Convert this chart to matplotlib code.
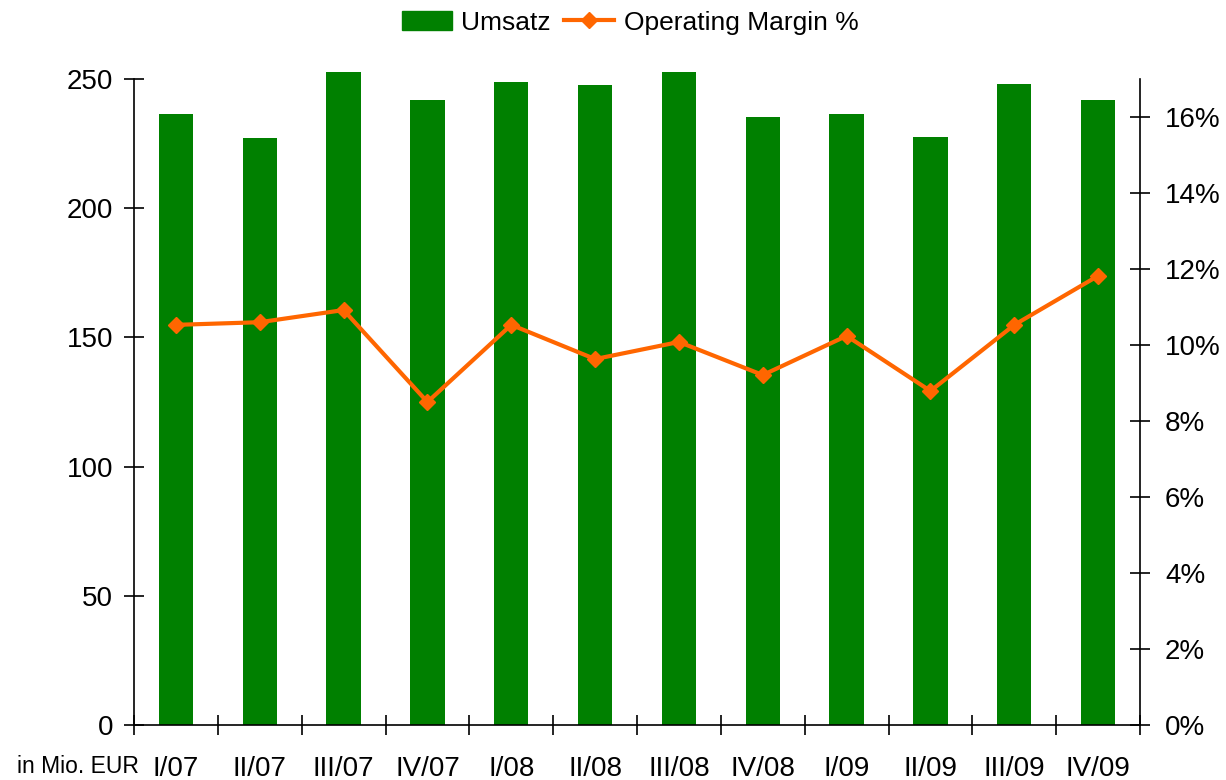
import matplotlib.pyplot as plt
from matplotlib.ticker import FuncFormatter, FixedLocator
from matplotlib.lines import Line2D
from matplotlib.patches import Patch

plt.rcParams['font.family'] = ['Liberation Sans', 'DejaVu Sans']

# === data
quartale = ['I/07', 'II/07', 'III/07', 'IV/07', 'I/08', 'II/08', 'III/08', 'IV/08',
            'I/09', 'II/09', 'III/09', 'IV/09']
umsatz = [236.5, 227.2, 252.7, 241.9, 248.8, 247.7, 252.7, 235.3, 236.5, 227.6, 248.1, 241.9]
marge = [10.53, 10.60, 10.92, 8.50, 10.53, 9.63, 10.08, 9.21, 10.24, 8.79, 10.53, 11.82]

gruen = '#008000'
orange = '#FF6600'

fig = plt.figure(figsize=(12.26, 7.8), dpi=100)
ax = fig.add_axes([0.1093, 0.0705, 0.8206, 0.8282])
x = list(range(len(quartale)))

ax.bar(x, umsatz, width=0.41, color=gruen, clip_on=False, zorder=2)
ax.set_xlim(-0.5, len(quartale) - 0.5)
ax.set_ylim(0, 250)
ax.set_yticks(range(0, 251, 50))

ax2 = ax.twinx()
ax2.plot(x, marge, color=orange, lw=3, marker='D', markersize=8, zorder=3)
ax2.set_ylim(0, 17)
ax2.set_yticks(range(0, 17, 2))
ax2.yaxis.set_major_formatter(FuncFormatter(lambda v, p: f'{v:.0f}%'))

# category axis: ticks on borders, labels in middle
ax.xaxis.set_major_locator(FixedLocator([i - 0.5 for i in range(len(quartale) + 1)]))
ax.xaxis.set_minor_locator(FixedLocator(x))
ax.set_xticklabels([''] * (len(quartale) + 1))
ax.set_xticklabels(quartale, minor=True)
ax.tick_params(axis='x', which='major', direction='inout', length=14, width=1.2)
ax.tick_params(axis='x', which='minor', length=0, pad=22, labelsize=20)
ax.tick_params(axis='y', direction='inout', length=14, width=1.2, pad=8, labelsize=20)
ax2.tick_params(axis='y', direction='inout', length=14, width=1.2, pad=11, labelsize=20)

for a in (ax, ax2):
    a.spines['top'].set_visible(False)
    for s in ('left', 'right', 'bottom'):
        a.spines[s].set_linewidth(1.2)
ax.spines['right'].set_visible(False)
ax2.spines['left'].set_visible(False)
ax2.spines['bottom'].set_visible(False)

fig.text(0.014, 0.009, 'in Mio. EUR', fontsize=16.5, va='baseline')

handles = [Patch(color=gruen, label='Umsatz'),
           Line2D([], [], color=orange, lw=3, marker='D', markersize=8, label='Operating Margin %')]
fig.legend(handles=handles, loc='center', bbox_to_anchor=(0.514, 0.971), ncol=2,
           frameon=False, fontsize=19, handlelength=1.9, handletextpad=0.35, columnspacing=0.5,
           borderpad=0.1)

fig.savefig('out.png', dpi=100)
